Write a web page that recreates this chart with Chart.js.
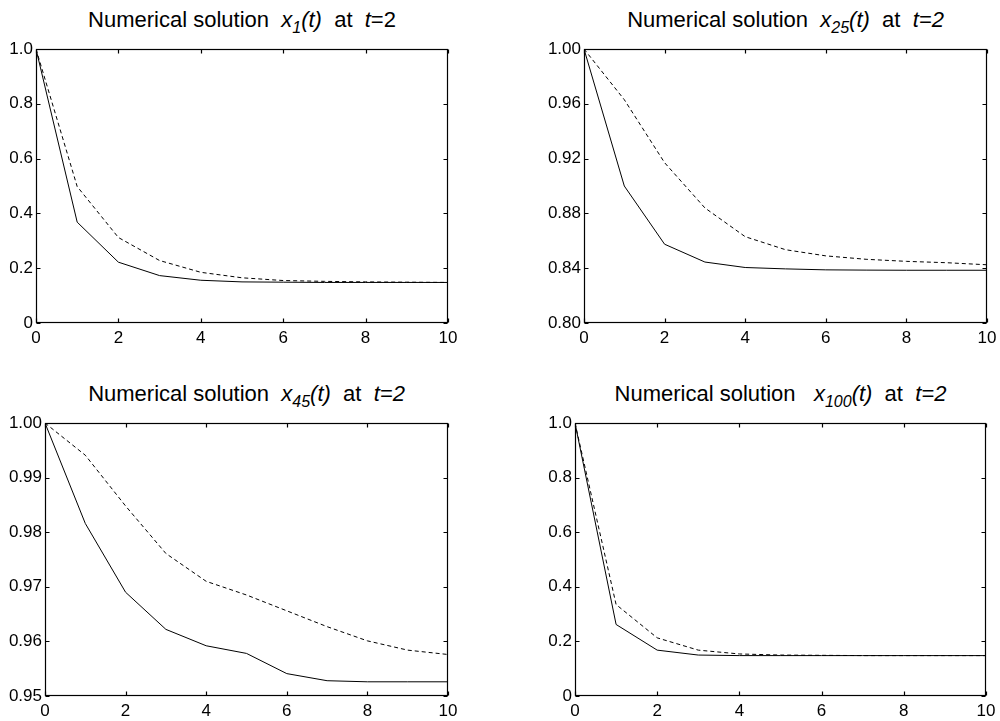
<!DOCTYPE html>
<html>
<head>
<meta charset="utf-8">
<script src="https://cdn.jsdelivr.net/npm/chart.js@4.4.1/dist/chart.umd.min.js"></script>
<style>
  body { margin: 0; background: #fff; }
  #page { position: relative; width: 1000px; height: 721px; overflow: hidden; background: #fff; }
  canvas { position: absolute; }
  .ttl { position: absolute; text-align: center; font-family: "Liberation Sans", Arial, sans-serif;
         font-size: 22px; line-height: 22px; color: #000; white-space: nowrap; }
  .ttl i { font-style: italic; }
  .ttl .sb { font-size: 16px; position: relative; top: 6px; font-style: italic; }
</style>
</head>
<body>
<div id="page">
  <div class="ttl" id="t1">Numerical solution&nbsp;&nbsp;<i>x</i><span class="sb">1</span><i>(t)</i>&nbsp;&nbsp;at&nbsp;&nbsp;<i>t</i>=2</div>
  <div class="ttl" id="t2">Numerical solution&nbsp;&nbsp;<i>x</i><span class="sb">25</span><i>(t)</i>&nbsp;&nbsp;at&nbsp;&nbsp;<i>t=2</i></div>
  <div class="ttl" id="t3">Numerical solution&nbsp;&nbsp;<i>x</i><span class="sb">45</span><i>(t)</i>&nbsp;&nbsp;at&nbsp;&nbsp;<i>t=2</i></div>
  <div class="ttl" id="t4">Numerical solution&nbsp;&nbsp;&nbsp;<i>x</i><span class="sb">100</span><i>(t)</i>&nbsp;&nbsp;at&nbsp;&nbsp;<i>t=2</i></div>
  <canvas id="c1"></canvas>
  <canvas id="c2"></canvas>
  <canvas id="c3"></canvas>
  <canvas id="c4"></canvas>
</div>
<script>
// time steps (x axis)
const tSteps = [0, 1, 2, 3, 4, 5, 6, 7, 8, 9, 10];
const xTicks = [0, 2, 4, 6, 8, 10];

// x_1(t)
const x1Solid  = [1.0, 0.368, 0.222, 0.173, 0.156, 0.150, 0.149, 0.148, 0.148, 0.148, 0.148];
const x1Dashed = [1.0, 0.498, 0.312, 0.228, 0.185, 0.165, 0.155, 0.152, 0.150, 0.149, 0.148];
// x_25(t)
const x25Solid  = [1.0, 0.900, 0.8575, 0.8445, 0.8405, 0.8395, 0.8388, 0.8386, 0.8385, 0.8385, 0.8385];
const x25Dashed = [1.0, 0.963, 0.917, 0.884, 0.863, 0.8535, 0.849, 0.8465, 0.845, 0.844, 0.8425];
// x_45(t)
const x45Solid  = [1.0, 0.9816, 0.9690, 0.9622, 0.9592, 0.9578, 0.9541, 0.9528, 0.9526, 0.9526, 0.9526];
const x45Dashed = [1.0, 0.9941, 0.9848, 0.9761, 0.9710, 0.9685, 0.9656, 0.9627, 0.9601, 0.9584, 0.9576];
// x_100(t)
const x100Solid  = [1.0, 0.262, 0.168, 0.150, 0.148, 0.148, 0.148, 0.148, 0.148, 0.148, 0.148];
const x100Dashed = [1.0, 0.335, 0.213, 0.168, 0.154, 0.150, 0.149, 0.148, 0.148, 0.148, 0.148];

// y tick values / labels
const yTicksA  = [0, 0.2, 0.4, 0.6, 0.8, 1.0];
const yLabelsA = ['0', '0.2', '0.4', '0.6', '0.8', '1.0'];
const yTicksB  = [0.80, 0.84, 0.88, 0.92, 0.96, 1.00];
const yLabelsB = ['0.80', '0.84', '0.88', '0.92', '0.96', '1.00'];
const yTicksC  = [0.95, 0.96, 0.97, 0.98, 0.99, 1.00];
const yLabelsC = ['0.95', '0.96', '0.97', '0.98', '0.99', '1.00'];

const FONT = {family: '"Liberation Sans", Arial, sans-serif', size: 17};

// draws the matlab style box + inward ticks
const boxPlugin = {
  id: 'box',
  afterDatasetsDraw(chart) {
    const ctx = chart.ctx;
    const a = chart.chartArea;
    const l = Math.round(a.left) + 0.5, r = Math.round(a.right) - 0.5;
    const t = Math.round(a.top) + 0.5, b = Math.round(a.bottom) - 0.5;
    const tl = 4;
    ctx.save();
    ctx.strokeStyle = '#000';
    ctx.lineWidth = 1.2;
    ctx.strokeRect(l, t, r - l, b - t);
    ctx.beginPath();
    chart.scales.x.ticks.forEach(function(tk) {
      const px = Math.round(chart.scales.x.getPixelForValue(tk.value)) + 0.5;
      ctx.moveTo(px, b); ctx.lineTo(px, b - tl);
      ctx.moveTo(px, t); ctx.lineTo(px, t + tl);
    });
    chart.scales.y.ticks.forEach(function(tk) {
      const py = Math.round(chart.scales.y.getPixelForValue(tk.value)) + 0.5;
      ctx.moveTo(l, py); ctx.lineTo(l + tl, py);
      ctx.moveTo(r, py); ctx.lineTo(r - tl, py);
    });
    ctx.stroke();
    ctx.restore();
  }
};

function toPoints(vals) {
  return tSteps.map(function(t, i) { return {x: t, y: vals[i]}; });
}

// area = plot box in page pixels
function makePlot(id, titleId, area, solid, dashed, yTicks, yLabels) {
  const yw = 60, padTop = 14, padRight = 22, xh = 30;
  const cv = document.getElementById(id);
  const w = area.R - area.L + yw + padRight;
  const h = area.B - area.T + padTop + xh;
  cv.width = w; cv.height = h;
  cv.style.left = (area.L - yw) + 'px';
  cv.style.top = (area.T - padTop) + 'px';
  cv.style.width = w + 'px';
  cv.style.height = h + 'px';

  const ttl = document.getElementById(titleId);
  ttl.style.left = area.L + 'px';
  ttl.style.width = (area.R - area.L) + 'px';
  ttl.style.top = (area.T - 40) + 'px';

  new Chart(cv, {
    type: 'line',
    data: {
      datasets: [
        {data: toPoints(solid), borderColor: '#000', borderWidth: 1, pointRadius: 0, tension: 0, fill: false},
        {data: toPoints(dashed), borderColor: '#000', borderWidth: 1, borderDash: [4, 3], pointRadius: 0, tension: 0, fill: false}
      ]
    },
    options: {
      responsive: false,
      animation: false,
      devicePixelRatio: 1,
      layout: {padding: {left: 0, top: padTop, right: padRight, bottom: 0}},
      plugins: {legend: {display: false}, title: {display: false}, tooltip: {enabled: false}},
      scales: {
        x: {
          type: 'linear', min: 0, max: 10,
          grid: {display: false, drawTicks: false},
          border: {display: false},
          afterBuildTicks: function(s) { s.ticks = xTicks.map(function(v) { return {value: v}; }); },
          afterFit: function(s) { s.height = xh; },
          ticks: {color: '#000', font: FONT, padding: 5, autoSkip: false, maxRotation: 0,
                  callback: function(v) { return String(v); }}
        },
        y: {
          min: yTicks[0], max: yTicks[yTicks.length - 1],
          grid: {display: false, drawTicks: false},
          border: {display: false},
          afterBuildTicks: function(s) { s.ticks = yTicks.map(function(v) { return {value: v}; }); },
          afterFit: function(s) { s.width = yw; },
          ticks: {color: '#000', font: FONT, padding: 3, autoSkip: false,
                  callback: function(v, i) { return yLabels[i]; }}
        }
      }
    },
    plugins: [boxPlugin]
  });
}

makePlot('c1', 't1', {L: 36, T: 49, R: 448, B: 323}, x1Solid, x1Dashed, yTicksA, yLabelsA);
makePlot('c2', 't2', {L: 584, T: 49, R: 987, B: 323}, x25Solid, x25Dashed, yTicksB, yLabelsB);
makePlot('c3', 't3', {L: 45, T: 423, R: 448, B: 696}, x45Solid, x45Dashed, yTicksC, yLabelsC);
makePlot('c4', 't4', {L: 575, T: 423, R: 986, B: 696}, x100Solid, x100Dashed, yTicksA, yLabelsA);
</script>
</body>
</html>
